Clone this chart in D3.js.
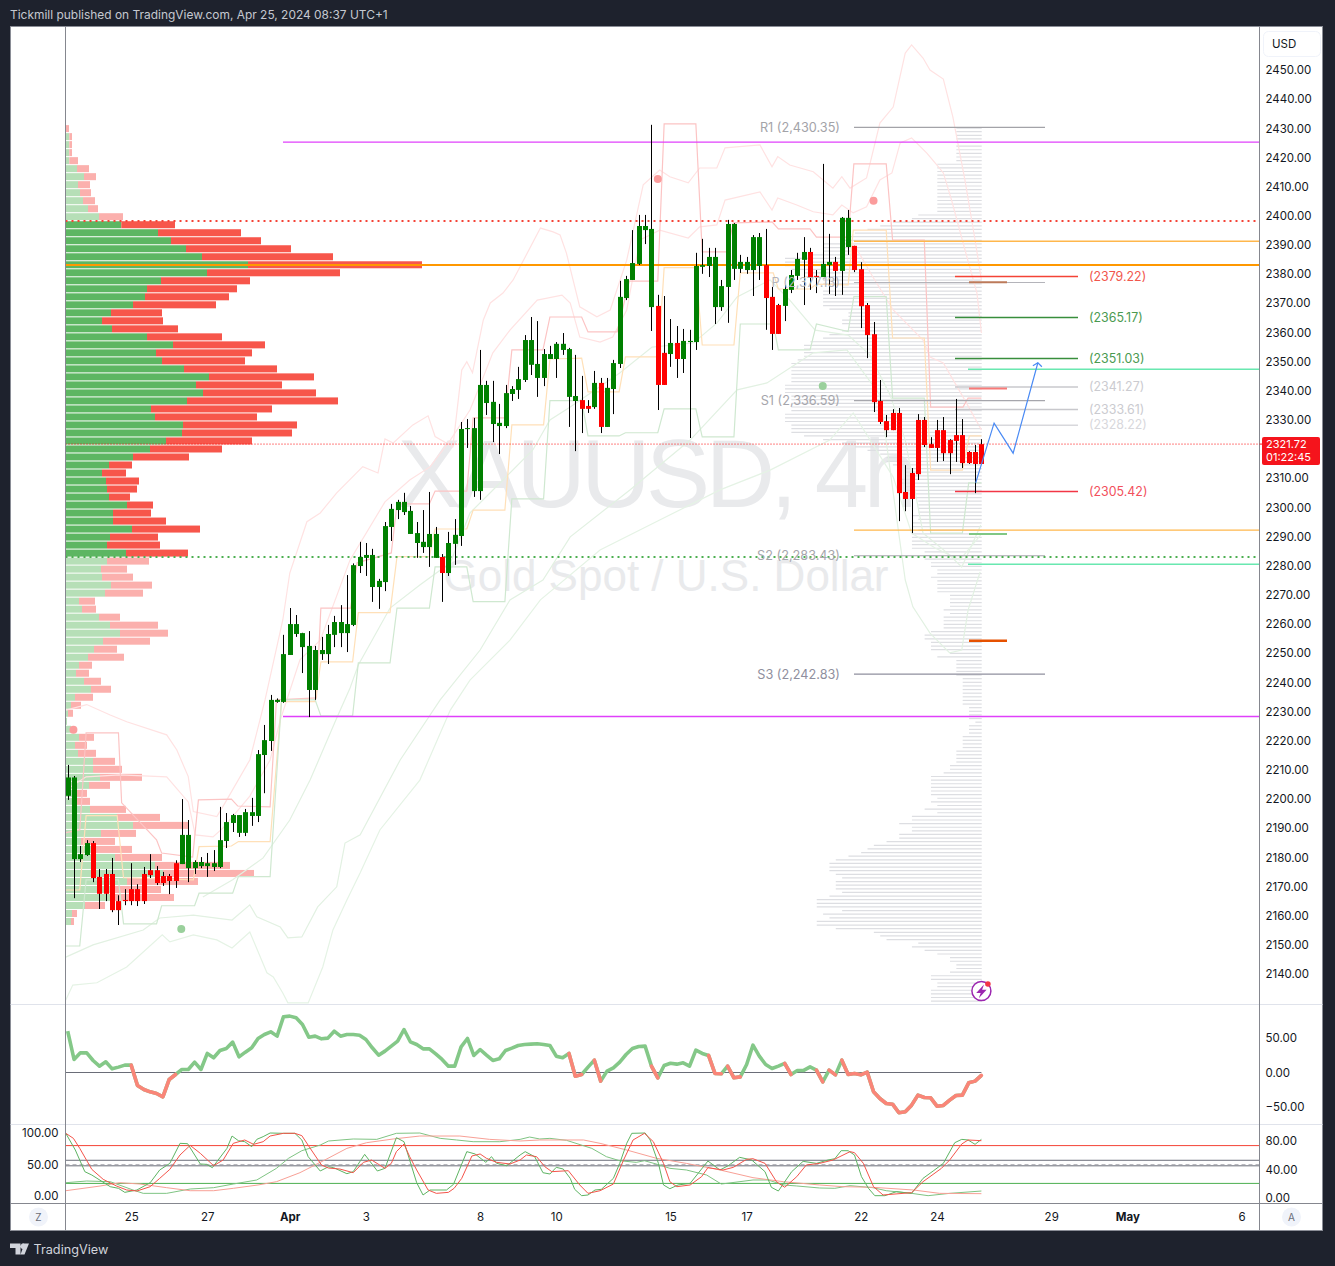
<!DOCTYPE html>
<html>
<head>
<meta charset="utf-8">
<style>
  html, body { margin: 0; padding: 0; background: #1e222d; }
  svg { display: block; }
  text { font-family: "Inter", "Liberation Sans", sans-serif; }
</style>
<script src="https://cdn.jsdelivr.net/npm/d3@7"></script>
</head>
<body>
<div id="chart"></div>
<script>
// 4h candles, one value per bar
const opens = [2201.1,2179.4,2179.4,2180.8,2184.9,2173.3,2174.3,2174.3,2165,2165.4,2169.1,2169.1,2174.3,2175.6,2175.6,2173.6,2173.6,2178,2177.7,2176.3,2176.3,2177,2177,2176.7,2176.7,2185.6,2191.8,2188.4,2188.4,2194.2,2194.2,2215.1,2219.9,2233.3,2233.3,2249.4,2256.6,2252.1,2237.4,2237.4,2249.7,2249.7,2256.3,2256.9,2256.9,2259.7,2279.9,2282.7,2272.7,2272.7,2274.4,2293.3,2299.1,2298.4,2290.9,2287.8,2286.4,2286.4,2282.7,2283,2277.5,2287.5,2290.2,2326.9,2305.6,2305.6,2335.8,2328.6,2327.9,2327.9,2338.9,2340.3,2343.7,2348.9,2344.4,2344.4,2350.9,2350.9,2354,2337.9,2336.5,2336.8,2334.8,2334.4,2342.7,2327.6,2340.6,2349.2,2371.8,2378,2383.5,2395.1,2368.7,2369.1,2353,2352.6,2356.4,2350.9,2356.7,2356.7,2382.5,2382.8,2368.7,2368.7,2375.6,2381.8,2381.8,2381.4,2381.4,2382.8,2383.1,2372.2,2369.4,2369.1,2374.6,2379.4,2384.9,2387.6,2379.4,2379,2383.1,2384.2,2381.1,2389.3,2389.7,2381.7,2369.4,2359.4,2336.5,2329.6,2332.4,2332.4,2305.3,2311.8,2330,2330,2321.7,2326.5,2326.5,2323.1,2324.8,2324.8,2319,2319,2321.7];
const highs = [2211.7,2207.9,2183.9,2185.9,2185.6,2176,2176,2179.8,2167,2169.1,2178,2170.8,2176.7,2181.1,2177,2175,2174.3,2179,2200,2192.8,2179,2180.1,2181.5,2182.5,2197.3,2195.2,2194.9,2194.5,2196.6,2200.4,2216.8,2225.4,2235.7,2234.5,2256.3,2265.5,2263.1,2257,2257.6,2252.5,2255.6,2259.7,2262.8,2266.5,2276.8,2280.8,2288.2,2287.8,2285.8,2275.5,2295,2301.2,2302.6,2305,2300.5,2295,2299.1,2305.3,2293.3,2284,2291.6,2296,2329.3,2330.3,2330.7,2354,2343.4,2343.4,2335.5,2342,2341.6,2348.2,2359.1,2365.3,2363.9,2354.3,2355.4,2356.7,2359.8,2354.7,2352.3,2345.1,2336.8,2346.8,2344.4,2344.4,2350.6,2377.7,2379.4,2395.1,2400.3,2400.3,2431.2,2372.9,2372.5,2364.6,2362.2,2361.2,2360.9,2387.3,2392.1,2389,2389,2378,2398.6,2397.5,2386.6,2385.9,2393.4,2394.1,2395.5,2375.6,2369.8,2376.3,2381.4,2387.3,2392.7,2389,2381.4,2417.8,2393.8,2385.9,2399.6,2402,2389.7,2384.1,2370.1,2363.6,2343.7,2331.7,2333.7,2334.1,2314.5,2313.5,2332,2331,2324.1,2330,2331,2323.4,2337.2,2330.3,2319.3,2321.4,2323.4];
const lows = [2199.7,2166,2178.4,2180.5,2171.5,2162.3,2165,2161.2,2156.8,2163.6,2163.6,2163.3,2164,2172.9,2170.5,2170.2,2167.4,2169.5,2177.7,2171.5,2174.3,2176.3,2173.3,2175.3,2176.3,2183.2,2188.7,2187,2187.3,2190.8,2192.1,2202,2216.5,2233,2233,2249.4,2255.6,2243.2,2228.1,2234,2247.7,2246.3,2252.1,2252.1,2250.4,2259.3,2277.5,2276.5,2267.6,2265.2,2271.3,2288.5,2296,2297.4,2290.9,2282.7,2284.4,2279.6,2282.7,2267.6,2276.5,2280.3,2286.8,2320.4,2303.6,2302.6,2331.7,2322.4,2318.3,2327.2,2336.5,2337.2,2343,2345.4,2337.9,2341.6,2350.9,2344.4,2352.3,2327.6,2319.3,2325.5,2332.4,2333.8,2325.5,2327.6,2332,2347.8,2371.1,2378,2383.1,2390.3,2360.5,2333.4,2342,2348.2,2344.4,2346.1,2323.8,2354,2380.1,2379,2362.9,2367.4,2363.3,2378,2380.4,2380.1,2372.5,2378,2360.9,2354,2359.5,2363.9,2373.5,2378,2369.4,2374.6,2373.5,2379,2373.2,2372.5,2372.9,2386.6,2380.7,2361.5,2351.2,2332.7,2328.6,2324.1,2326.5,2295.3,2298.7,2291.2,2309.4,2320.7,2320.4,2315.6,2315.9,2311.4,2315.6,2313.5,2314.9,2304.9,2314.9];
const closes = [2207.4,2207.4,2181.1,2184.9,2172.9,2167.5,2167.5,2161.9,2161.9,2165,2165,2165,2165,2173.9,2171.2,2171.2,2171.9,2171.9,2187.7,2187.7,2178.4,2178.4,2178,2178,2185.9,2192.1,2194.5,2194.5,2195.5,2195.5,2215.4,2220.2,2234,2234,2249.7,2260,2260,2256.9,2252.5,2251.1,2251.1,2256.6,2260.7,2260.7,2260,2280.2,2283,2283.7,2283.7,2274.8,2293.6,2299.5,2301.9,2301.9,2298.8,2291.2,2288.2,2290.9,2290.9,2277.5,2287.8,2290.6,2326.9,2327.2,2327.2,2342,2342,2336.2,2329,2339.2,2340.6,2344,2357.4,2357.4,2349.2,2352.6,2352.6,2356.1,2356.1,2354.3,2338.2,2333.8,2333.8,2342.7,2327.6,2341,2349.5,2372.2,2378.3,2383.8,2396.5,2396.5,2395.5,2342,2342,2356.4,2350.9,2357.1,2357.1,2382.8,2383.1,2385.9,2385.9,2375.9,2397.2,2397.2,2384.2,2384.2,2392.7,2392.7,2371.8,2359.5,2359.5,2374.9,2379.7,2385.2,2387.6,2378.7,2379.1,2383.5,2384.2,2381.1,2399.3,2399.3,2381.4,2369,2359.1,2336.1,2329.3,2326.5,2326.5,2304.9,2302.9,2302.9,2311.4,2321.4,2320.4,2320.4,2318.6,2318.6,2322.8,2315.2,2315.2,2314.9,2314.9];

// time axis
const timeTickBars = [10, 22, 35, 47, 65, 77, 95, 107, 125, 137, 155, 167, 185];
const timeTickLabels = ['25', '27', 'Apr', '3', '8', '10', '15', '17', '22', '24', '29', 'May', '6'];
const boldTimeLabels = ['Apr', 'May'];
// 2320.00 sits under the last price tag, so it is not shown
const priceTicks = [2450,2440,2430,2420,2410,2400,2390,2380,2370,2360,2350,2340,2330,2310,2300,2290,2280,2270,2260,2250,2240,2230,2220,2210,2200,2190,2180,2170,2160,2150,2140];

// left volume profile, top row first
const vpBuy = [0,3.3,3.3,3.3,3.3,11,18,12,14,17,22,33,55.3,92,105,120,136,182,141,95,81,79,67,45,36,46,81,107,90,96,118,143,130,137,121,85,89,117,116,100,84,67,43,36,40,41,43,61,47,47,66,44,41,60,41,35,36,45,39,13,16,33,44,54,37,28,22,13,10,18,25,9,5,2,1,5,13,9,12,27,27,34,23,10,10,24,51,67,35,15,30,49,89,97,61,47,44,19,6,5];
const vpSell = [3,2.7,2.7,2.7,8.7,12,12,12,11,12,10,24,53.7,83,90,105,131,174,133,89,90,84,83,51,61,66,75,92,96,83,93,105,86,113,151,121,102,114,110,86,72,56,23,24,33,30,21,26,38,53,68,48,53,62,42,26,31,41,38,16,14,21,48,48,47,23,36,13,13,17,20,18,10,5,0,0,15,12,18,22,29,42,21,11,14,36,43,55,35,34,36,47,75,91,71,48,64,20,5,3];
const vpValueAreaFirst = 12;
const vpValueAreaLast = 53;

// right profile, bars per price row, top row first
const tpoCounts = [4,4,4,4,4,4,4,4,4,4,7,7,7,7,7,7,7,7,7,7,7,7,7,7,10,11,14,16,18,
  20,21,22,25,25,25,27,31,31,31,30,28,28,25,25,22,25,25,25,25,25,24,21,21,22,22,21,22,24,25,27,28,28,28,28,29,30,30,30,30,30,30,31,31,31,30,30,30,30,30,31,31,31,30,30,30,28,25,22,20,18,16,15,15,14,12,12,12,13,13,12,12,12,11,10,10,10,10,11,10,11,11,10,11,
  11,11,11,11,9,9,9,8,8,7,7,8,7,7,7,7,5,5,5,5,6,5,6,6,6,6,8,9,9,8,8,8,5,7,4,4,4,4,4,3,3,3,3,3,3,3,3,2,2,2,2,1,2,2,2,3,3,3,3,4,4,4,4,5,5,6,8,8,8,8,8,8,7,8,7,9,7,11,11,13,11,11,13,13,15,17,18,19,21,23,24,24,24,23,22,23,23,23,22,24,26,26,26,22,25,24,26,26,23,17,16,15,10,11,9,7,5,5,4,4,5,8,8,7,7,8,8,8,8];

// pale step lines, [bar, price]
const stepRed = [[-0.3,2188.5],[1.9,2189.4],[2.9,2222.7],[8,2222.7],[8.5,2198.7],[14,2186],[14.8,2181.5],[19.7,2180.1],[20.6,2199.7],[25.8,2200],[26.8,2197.6],[31.9,2197.3],[32.9,2234],[39.2,2234.7],[39.9,2265.5],[44.6,2265.5],[45.6,2281],[51,2284.4],[51.9,2301.2],[57,2301.2],[57.9,2305.6],[62.9,2305.6],[63.9,2330.7],[68.9,2330.7],[70,2354],[74.9,2354],[76,2365.3],[81,2365.3],[82,2360.2],[86.6,2360.2],[88.5,2377.6],[93,2377.6],[94,2431.5],[99,2431.5],[100,2387.6],[103.9,2387.6],[104.9,2397.6],[111,2397.9],[112,2395.5],[117,2395.5],[118,2392.7],[123,2392.7],[123.9,2417.8],[129,2417.8],[130,2391.7],[135,2391.7],[136,2334.4],[141.1,2334.4],[141.9,2337.5],[144,2337.5]];
const stepOrange = [[-0.3,2168.8],[1.9,2168.8],[2.9,2194.3],[7.8,2194.3],[8.8,2173],[19.8,2172.3],[20.7,2183.7],[25.8,2183.9],[26.9,2185.4],[31.9,2185.4],[33.7,2233.4],[39,2233.4],[39.9,2247],[44.9,2247],[45.8,2263.9],[50.8,2263.9],[51.9,2283.1],[57,2283.1],[57.9,2292.6],[62.9,2292.6],[63.9,2299.1],[68.9,2299.1],[70,2328.3],[75,2328.3],[76,2350.9],[81,2351.2],[82,2339.6],[86.9,2339.6],[87.9,2351.6],[93.1,2351.6],[94,2382.2],[99,2382.2],[100,2355.7],[105,2355.7],[106,2380.4],[111.2,2380.4],[112,2374.9],[117,2374.9],[118,2376.6],[123,2376.3],[123.8,2395.1],[129,2395.1],[130,2358.1],[135,2358.1],[136,2312.8],[141,2312.8],[142.1,2324.5],[144,2324.5]];
const stepGreen = [[-0.3,2149.6],[1.9,2149.6],[2.9,2172.3],[8,2172.3],[8.8,2157.2],[14,2157.2],[14.8,2163.4],[20,2163.4],[20.7,2167.7],[26,2167.7],[26.9,2173.4],[31.9,2173.4],[33.7,2234],[39,2234],[39.9,2228.5],[44.9,2228.5],[45.8,2246.7],[50.8,2246.7],[51.9,2265.5],[57,2265.5],[57.9,2279.6],[62.9,2279.6],[63.9,2267.7],[68.9,2267.7],[70,2302.9],[75,2302.9],[76,2336.6],[81,2336.6],[82,2324.5],[86.9,2324.5],[87.9,2325.6],[93,2325.6],[94,2333.8],[99,2333.8],[100,2324.2],[105,2324.2],[106,2362.9],[111.2,2362.9],[112,2354],[117,2354],[118,2362.9],[123,2360.3],[123.9,2372.3],[129,2372.3],[130,2337.5],[135,2337.5],[136,2291.2],[141,2291.2],[142,2308.4],[144,2308.4]];

// pale band curves, [bar, price]
const bandUpperOuter = [[-0.3,2230.5],[3,2232.4],[6.7,2228.8],[9.3,2226.5],[15.6,2222],[17.2,2216.8],[19,2207.7],[19.8,2195.7],[23.5,2194],[24.8,2198.7],[28.7,2213.4],[31.1,2234],[33.9,2261.4],[35,2277.5],[37.7,2295.1],[39.8,2298.1],[42.4,2305],[46.5,2314],[48.9,2311.8],[50,2323.5],[51.3,2322.1],[54.4,2328.3],[56.8,2331.4],[57.9,2324.3],[60.7,2320.8],[62.1,2347.1],[62.9,2350],[63.8,2346.2],[65.5,2364.3],[66.6,2370.1],[68.6,2373.5],[70.2,2378],[74.5,2395.8],[76.5,2394.5],[77.6,2393.4],[78.6,2387.2],[80.7,2368.8],[83.4,2365.4],[85.5,2367.7],[88.1,2384.8],[90.7,2410.6],[93.3,2415.7],[94.9,2413.4],[97.8,2411.3],[99.6,2416.4],[102.3,2416.4],[103.6,2423.3],[109.1,2424.3],[111,2416.8],[111.9,2420.3],[113.8,2417.4],[117.5,2415.1],[120.6,2409.5],[122,2413.4],[123.3,2409.5],[125.9,2413],[128,2431.8],[130.1,2437.3],[132,2455.8],[133,2458.6],[134.8,2454.1],[135.9,2450],[138,2446.9],[139.5,2433.9],[141.4,2412.3],[143,2391.7],[144,2378]];
const bandUpperInner = [[-0.3,2203.1],[2.9,2207.6],[8.2,2208.3],[15.6,2207.6],[19,2199],[20.1,2187.7],[22.9,2187],[24.5,2190.1],[28.7,2201],[31.9,2213.4],[33.5,2227.1],[36.6,2247.7],[39.8,2254.5],[44.5,2282],[50,2301.9],[53.9,2309.4],[57.1,2313.9],[60.3,2323.1],[63.4,2333.4],[65.5,2344.7],[67,2353],[69.7,2360.8],[74,2371.1],[77.9,2372.8],[79.2,2370.1],[80.7,2358.4],[83.9,2356.7],[85.9,2358.4],[88.1,2367.7],[90.2,2391.7],[93.3,2395.1],[97.8,2392.4],[99.6,2396.2],[102.3,2396.9],[103.6,2405.4],[109.1,2408.2],[111,2402],[111.9,2406.1],[114.9,2403.7],[117.5,2401.4],[120.6,2400.3],[122,2403.7],[123.8,2401],[125.9,2403.1],[128,2412.3],[129.9,2414.7],[131.2,2425],[133,2426.7],[135.4,2421.5],[137,2417.4],[138,2414.7],[139.3,2405.4],[141.7,2386],[143.3,2373.5],[144,2359.8]];
const bandUpperMid = [[123.8,2390.7],[126.9,2379],[130.1,2367.7],[134.8,2357.4],[135.9,2351.6],[138,2349.5],[141.1,2337.9],[144,2326.6]];
const bandLowerA = [[21.3,2166.4],[26,2172.3],[30.8,2179.8],[35,2192.8],[38.2,2206.5],[42.4,2227.8],[44.5,2238.1],[45.8,2246],[50.8,2265.5],[55.5,2273.4],[60.3,2281],[63.4,2298.1],[68.6,2309.4],[73.3,2319.7],[76,2330],[79.2,2334.4],[87,2346.1],[92.1,2355],[98.6,2356.4],[102.3,2363.2],[105.5,2372.2],[110.7,2378],[113.8,2371.1],[117.8,2360.8],[123,2359.1],[126.4,2352.3],[129.6,2338.6],[132,2323.1],[134.8,2291.2],[138.6,2284.4],[140.9,2279.6],[142.5,2287.1],[143.9,2294]];
const bandLowerB = [[-0.3,2145.8],[4,2150],[11.9,2155.1],[14.5,2159.2],[19.8,2160.2],[25.9,2158.5],[28.7,2163.7],[29.8,2159.6],[33.5,2156.1],[34.7,2152.4],[36.9,2152.7],[39.4,2163],[42.4,2169.9],[43.7,2184.9],[46.1,2187.7],[52.4,2213.4],[58.7,2234],[65,2251.1],[69.7,2268.3],[74.9,2275.1],[79.2,2289.9],[88.6,2306],[98.1,2323.1],[105.5,2340.3],[110.2,2342.7],[117.5,2353],[122.8,2354],[128,2338.6],[130.9,2292.3],[132,2275.1],[133.2,2265.9],[135.9,2256.9],[139,2250.1],[140.9,2251.1],[141.9,2264.8],[143.8,2277.9]];
const bandLowerC = [[-0.3,2131.1],[0.8,2136.2],[4.6,2137],[9.3,2142.4],[14.9,2153.4],[16.1,2151],[19.8,2153.4],[23.5,2151.7],[25.9,2148.9],[28.7,2154.4],[31.4,2140.4],[32.4,2139],[33.9,2133.5],[34.7,2130.1],[37.9,2130.1],[40.2,2142.4],[41.8,2155.1],[44,2165.4],[46.1,2174.7],[49.2,2189.4],[55.5,2206.5],[60.3,2230.5],[63.4,2240.8],[69.7,2254.5],[74.5,2268.3],[83.9,2285.4],[93.3,2295.7],[102.8,2306],[110.7,2312.8],[120.1,2323.1],[123.8,2332.4],[130.1,2310.4],[133,2291.2],[136.7,2286.1],[140.6,2282],[143.9,2290.6]];

// signal dots, [bar, price]
const dotsRed = [[0.9,2223.8],[93,2412.6],[127,2405.2]];
const dotsGreen = [[17.9,2155.4],[119,2341.6]];

// long horizontal levels
const magentaLevels = [2425.3, 2228.3];
const yellowLevels = [2391.3, 2292.2];
const aquaLevels = [2347.4, 2280.5];
const pointOfControl = 2383.1;
const valueAreaHigh = 2398.2;
const valueAreaLow = 2283;
const lastPrice = 2321.72;

// pivots
const pivotNames = ['R1 (2,430.35)', 'P (2,377.13)', 'S1 (2,336.59)', 'S2 (2,283.43)', 'S3 (2,242.83)'];
const pivotPrices = [2430.35, 2377.13, 2336.59, 2283.43, 2242.83];
const pivotColors = ['#a3a3a8', '#b4b4ba', '#a6a6ac', '#a6a6ac', '#8f8f9e'];

// drawn target levels
const targetPrices = [2379.22, 2365.17, 2351.03, 2341.27, 2333.61, 2328.22, 2305.42];
const targetLineColors = ['#f44336', '#388e3c', '#388e3c', '#c8c8cc', '#c8c8cc', '#d8d8dc', '#f23645'];
const targetTextColors = ['#f1564c', '#4a9a50', '#4a9a50', '#cbcbd0', '#cbcbd0', '#d8d8dc', '#f2505c'];

// short thick order levels
const orderPrices = [2377.2, 2340.8, 2290.9, 2254.3];
const orderColors = ['#bc7a5a', '#f77a78', '#81c784', '#e65100'];

// hand drawn arrow, [bar, price]
const arrowPath = [[143.1,2308.4],[146,2328.9],[149,2318.6],[152.9,2349.6]];

// momentum pane, one value per bar
const momentum = [59.9,18.9,28.5,28.5,17.4,9.2,15.5,5.3,7.8,10.7,10.7,-18.8,-24.6,-28,-30.4,-35.2,-10.1,-2.9,4.4,4.4,15,4.4,27.6,21.3,31.9,34.8,44,22.7,29.5,35.8,49.3,55.1,59,52.7,80.7,81.7,79.2,69.6,51.2,52.7,48.8,49.8,59.9,52.7,55.1,55.1,54.1,47.8,35.8,25.1,31,38.2,45.4,62.3,44.5,40.6,34.3,34.3,27,18.9,9.2,9.2,37.2,49.3,24.7,33.3,25.1,17.4,19.8,31.9,35.3,39.1,40.6,41.1,41.6,40.6,39.1,23.7,21.3,27.6,-5.3,-2.9,7.8,17.9,-12.5,2,6.8,15,26.1,34.8,37.7,38.2,9.2,-7.7,10.2,13.5,12.1,14,9.2,32.4,27.6,24.7,-1.4,-1.9,9.2,-7.7,-6.3,11.6,39.6,23.7,11.6,5.8,9.2,13.1,-2.9,3,3,8.2,3.4,-13.5,3.4,-3.4,17.9,-2.9,-1.4,-3.4,0.5,-28,-37.7,-44.9,-45.9,-58.4,-57,-47.3,-32.8,-36.2,-36.7,-48.8,-47.8,-40.1,-33.3,-32.8,-15,-12.5,-4.3];
const momentumRedRuns = [[10,17],[79,81],[83,84],[92,93],[101,103],[104,106],[113,114],[118,119],[120,121],[122,144]];
const momentumTicks = [50, 0, -50];

// stochastic pane, [bar, value]
const stochFastK = [[-0.3,99.5],[1.2,73],[2.7,38.6],[3.8,33.3],[6.7,14.8],[8,12.2],[9,5.8],[10.9,9.5],[13,21.1],[14.5,41.3],[16.1,51.8],[17.7,83.6],[18.9,83],[20.9,50.8],[21.9,50.2],[22.8,45],[25.1,75.6],[25.9,95.2],[26.9,87.8],[27.9,86.2],[29,78.3],[29.8,89.9],[30.8,94.2],[31.9,100],[34,99.5],[35.8,99.5],[36.9,88.9],[37.9,62.4],[39.8,39.7],[41.1,46.5],[41.9,45],[44,35.4],[45,38.6],[46.8,66.1],[48.8,39.7],[50,43.9],[51.8,92.6],[53,86.2],[55,21.1],[56,1.6],[57.1,9.5],[59.7,9.5],[60.8,18.5],[62.9,70.4],[64.2,66.7],[65.9,53.4],[66.8,62.4],[67.6,51.8],[69.2,48.1],[71.3,65.1],[72.1,70.4],[73.6,62.4],[74.9,37],[76,34.9],[77,45.5],[78.1,42.8],[79.2,28],[79.9,10.6],[81,0.5],[82,1.6],[83.1,9.5],[84.1,10.6],[86,28],[87,51.8],[88.1,83.6],[88.9,99.5],[91,100],[91.8,88.9],[93.1,51.8],[93.9,17.5],[94.9,11.6],[96.2,17.5],[98.1,20.1],[100.9,55.5],[102.8,41.3],[104.1,48.1],[105.9,61.4],[107.8,57.1],[109.9,38.6],[110.9,13.8],[112,7.9],[114.1,38.6],[115.9,55],[118,51.8],[119.8,57.1],[120.9,59.2],[121.9,71.9],[123,71.9],[124,65.1],[125.1,30.7],[126.2,12.2],[127.2,0.5],[128.8,0.5],[130.6,6.9],[133,4.2],[134.8,28],[136.4,39.7],[138,51.8],[139.8,84.6],[140.9,89.9],[141.9,88.9],[143,82],[144,89.9]];
const stochFastD = [[-0.3,99.5],[0.9,91.5],[1.9,75.6],[3.8,42.3],[5.6,26.4],[7.7,15.8],[9.3,9.5],[10.9,7.9],[13,14.8],[14.5,28],[16.1,42.3],[17.7,65.1],[19.3,80.4],[20.9,67.7],[23,48.1],[24.5,57.1],[26.1,83.6],[27.9,88.9],[29.3,82],[30.8,86.2],[31.9,95.2],[34,99.5],[35.8,99.5],[36.9,95.8],[38.4,73],[40,49.2],[41.1,44.4],[42.9,42.8],[45,37],[46.6,53.4],[47.9,57.1],[50,43.9],[51,51.8],[51.8,70.4],[53,82.5],[53.9,62.4],[55,41.3],[56.8,9.5],[58.1,4.2],[60,5.8],[60.9,12.2],[62.1,28],[63.7,63.5],[65,66.7],[66,59.8],[67.6,53.4],[69.7,50.8],[71.3,57.1],[72.3,65.1],[73.9,62.4],[75.2,46.5],[76.3,38.6],[78.9,40.2],[80.7,17.5],[82,4.2],[83.9,8.4],[86,19],[87.6,57.1],[89.1,88.9],[90.9,99.5],[92.3,86.2],[93.9,51.8],[94.9,22.7],[96,14.8],[98.1,17.5],[99.9,30.7],[100.9,45],[103.3,41.3],[104.9,45.5],[107,58.2],[108,59.2],[109.9,51.8],[111.7,22.7],[113,13.8],[114.9,30.7],[116.4,49.2],[118.5,51.8],[120.6,57.1],[123.3,70.4],[124,68.8],[125.4,51.8],[127,14.8],[128.5,1.6],[133,5.3],[134.8,22.7],[137.7,43.9],[139,57.1],[140.9,82.5],[141.9,88.9],[144,87.8]];
const stochSlowK = [[-0.3,21.1],[3,23.8],[6.7,22.7],[10.3,9.5],[11.9,4.2],[15.6,4.2],[19.3,11.1],[23,13.2],[26.1,19],[29.8,25.4],[32.9,43.9],[34.8,59.8],[36.9,71.9],[39.8,80.9],[41.1,87.3],[45,90.5],[48.7,89.9],[51.8,99.5],[55.5,100],[58.7,91.5],[61.3,88.9],[63.9,86.2],[68.1,86.2],[71.3,89.9],[72.8,93.6],[74.4,90.5],[76,91.5],[78.6,88.4],[82.6,75.6],[84.9,62.4],[87,56],[89.6,53.4],[90.9,56],[93.3,49.2],[94.9,43.9],[97.5,41.3],[100.7,33.3],[103,19],[108,25.4],[110.4,25.4],[112.8,17.5],[114.9,15.9],[118.5,12.7],[120.9,12.2],[123.3,16.4],[126.9,13.2],[129,8.4],[133,4.2],[135.6,0.5],[139,4.2],[144,7.9]];
const stochSlowD = [[-0.3,8.4],[5.1,15.8],[8.2,21.1],[11.4,19],[15.6,13.2],[19.3,8.4],[23,8.4],[26.1,12.2],[30,17.5],[32.9,22.7],[36.6,37],[40.3,56],[44,75.6],[47.1,84.6],[51.3,90.5],[55.5,95.2],[61.8,95.2],[66.5,89.9],[71.3,87.3],[74.4,88.9],[81.3,88.9],[83.9,83.6],[88.1,73],[92.8,59.8],[97.5,51.8],[102.8,41.3],[108,29.1],[112.8,22.7],[118.5,17.5],[122.2,14.8],[126.9,13.8],[133.3,9.5],[137.4,4.2],[144,3.7]];
const stochBandUpper = 80;
const stochBandLower = 20;
const stochBandMid = 50;
const stochGreyLevels = [56.7, 47.9];
const stochLeftTicks = [100, 50, 0];
const stochRightTicks = [80, 40, 0];

const width = 1335;
const height = 1266;
const bg = '#1e222d';
const paneLeft = 65.5;
const paneRight = 1259.5;
const paneTop = 26.5;
const mainBottom = 1004.5;
const momentumBottom = 1124.5;
const stochBottom = 1203.5;
const frameRight = 1322.5;
const frameBottom = 1230.5;

const svg = d3.select('#chart')
    .append('svg')
    .attr('width', width)
    .attr('height', height);

svg.append('rect').attr('width', width).attr('height', height).attr('fill', bg);
svg.append('rect')
    .attr('x', 10.5).attr('y', paneTop)
    .attr('width', frameRight - 10.5).attr('height', frameBottom - paneTop)
    .attr('fill', '#fff').attr('stroke', '#8a8d96');

svg.append('text').attr('x', 10).attr('y', 19)
    .attr('font-size', 11.95).attr('fill', '#c5c8d0')
    .text('Tickmill published on TradingView.com, Apr 25, 2024 08:37 UTC+1');

const x = d3.scaleLinear().domain([0, 144]).range([67.7, 981.4]);
const y = d3.scaleLinear().domain([2450, 2140]).range([70, 974]);
const yMomentum = d3.scaleLinear().domain([50, -50]).range([1038, 1107]);
const yStoch = d3.scaleLinear().domain([100, 0]).range([1133, 1196]);
const yStochRight = d3.scaleLinear().domain([80, 0]).range([1141, 1198]);

const defs = svg.append('defs');
defs.append('clipPath').attr('id', 'main-clip').append('rect')
    .attr('x', paneLeft).attr('y', paneTop)
    .attr('width', paneRight - paneLeft).attr('height', mainBottom - paneTop);

const main = svg.append('g').attr('clip-path', 'url(#main-clip)');

// watermark
main.append('text')
    .attr('x', 655).attr('y', 507)
    .attr('text-anchor', 'middle')
    .style('font-family', '"Liberation Sans", sans-serif')
    .style('font-size', '96px')
    .style('letter-spacing', '-4.5px')
    .attr('fill', '#e9eaec')
    .text('XAUUSD, 4h');
main.append('text')
    .attr('x', 666).attr('y', 591)
    .attr('text-anchor', 'middle')
    .style('font-family', '"Liberation Sans", sans-serif')
    .style('font-size', '44px')
    .attr('fill', '#e9eaec')
    .text('Gold Spot / U.S. Dollar');

// left volume profile
const vpRows = d3.scaleBand()
    .domain(d3.range(vpBuy.length))
    .range([y(2431.1), y(2156.8)])
    .paddingInner(0.125);
const vpX = d3.scaleLinear().domain([0, 356]).range([66, 422]);
const inValueArea = i => i >= vpValueAreaFirst && i <= vpValueAreaLast;

main.append('g').selectAll('rect')
    .data(vpBuy)
    .enter()
    .append('rect')
    .attr('x', vpX(0))
    .attr('y', (d, i) => vpRows(i))
    .attr('width', d => vpX(d) - vpX(0))
    .attr('height', vpRows.bandwidth())
    .attr('fill', (d, i) => inValueArea(i) ? '#5db662' : '#b6dfb7');

main.append('g').selectAll('rect')
    .data(vpSell)
    .enter()
    .append('rect')
    .attr('x', (d, i) => vpX(vpBuy[i]))
    .attr('y', (d, i) => vpRows(i))
    .attr('width', d => vpX(d) - vpX(0))
    .attr('height', vpRows.bandwidth())
    .attr('fill', (d, i) => inValueArea(i) ? '#f7564b' : '#fbb0ad');

// right profile
const tpoRows = d3.scalePoint()
    .domain(d3.range(tpoCounts.length))
    .range([y(2430.1), y(2130.7)]);
main.append('g').selectAll('line')
    .data(tpoCounts)
    .enter()
    .append('line')
    .attr('x1', d => x(144.05 - d))
    .attr('x2', x(144.05))
    .attr('y1', (d, i) => tpoRows(i))
    .attr('y2', (d, i) => tpoRows(i))
    .attr('stroke', '#dddee2')
    .attr('stroke-width', 1.2);

// pale overlays
const overlayLine = d3.line().x(d => x(d[0])).y(d => y(d[1]));
const overlays = [
    [bandUpperOuter, '#ffe2e2'], [bandUpperInner, '#ffe2e2'], [bandUpperMid, '#ffe2e2'],
    [bandLowerA, '#e2f1e2'], [bandLowerB, '#e2f1e2'], [bandLowerC, '#e5f3e5'],
    [stepRed, '#fcc4c4'], [stepOrange, '#ffe0b8'], [stepGreen, '#cfe8d0']
];
main.append('g').selectAll('path')
    .data(overlays)
    .enter()
    .append('path')
    .attr('d', d => overlayLine(d[0]))
    .attr('fill', 'none')
    .attr('stroke', d => d[1])
    .attr('stroke-width', 1.2);

// levels
function level(price, from, to, color, w, dash) {
    main.append('line')
        .attr('x1', from).attr('x2', to)
        .attr('y1', y(price)).attr('y2', y(price))
        .attr('stroke', color).attr('stroke-width', w)
        .attr('stroke-dasharray', dash || null);
}
magentaLevels.forEach(p => level(p, 283, paneRight, '#e040fb', 1.3));
yellowLevels.forEach(p => level(p, 854, paneRight, '#ffb74d', 1.4));
aquaLevels.forEach(p => level(p, 968, paneRight, '#69e8b0', 1.4));
pivotPrices.forEach((p, i) => level(p, 854, 1045, pivotColors[i], 1.2));
targetPrices.forEach((p, i) => level(p, 955, 1078, targetLineColors[i], 1.5));
orderPrices.forEach((p, i) => level(p, 969, 1007, orderColors[i], i === 3 ? 2.6 : 2));
level(pointOfControl, paneLeft, paneRight, '#ff9800', 2);
level(valueAreaHigh, paneLeft, paneRight, '#f44336', 2, '2 4');
level(valueAreaLow, paneLeft, paneRight, '#4caf50', 2, '2 4');
level(lastPrice, paneLeft, paneRight, '#f00', 1, '1 2');

// signal dots
main.append('g').selectAll('circle')
    .data(dotsRed.map(d => [d, '#fb9c9c']).concat(dotsGreen.map(d => [d, '#9ad09c'])))
    .enter()
    .append('circle')
    .attr('cx', d => x(d[0][0]))
    .attr('cy', d => y(d[0][1]))
    .attr('r', 4)
    .attr('fill', d => d[1]);

// candles
const bars = main.append('g').selectAll('g')
    .data(opens)
    .enter()
    .append('g');
bars.append('line')
    .attr('x1', (d, i) => Math.round(x(i)) + 0.5)
    .attr('x2', (d, i) => Math.round(x(i)) + 0.5)
    .attr('y1', (d, i) => y(highs[i]))
    .attr('y2', (d, i) => y(lows[i]))
    .attr('stroke', '#000');
bars.append('rect')
    .attr('x', (d, i) => Math.round(x(i)) - 2)
    .attr('y', (d, i) => y(Math.max(d, closes[i])))
    .attr('width', 5)
    .attr('height', (d, i) => Math.max(1, Math.abs(y(d) - y(closes[i]))))
    .attr('fill', (d, i) => closes[i] > d ? '#008000' : '#ff0000');

// hand drawn arrow
main.append('path')
    .attr('d', overlayLine(arrowPath))
    .attr('fill', 'none')
    .attr('stroke', '#4a8af4')
    .attr('stroke-width', 1.2);
const arrowTip = arrowPath[arrowPath.length - 1];
main.append('path')
    .attr('d', `M${x(arrowTip[0]) - 5},${y(arrowTip[1]) + 3}L${x(arrowTip[0])},${y(arrowTip[1])}L${x(arrowTip[0]) + 4},${y(arrowTip[1]) + 4}`)
    .attr('fill', 'none')
    .attr('stroke', '#4a8af4')
    .attr('stroke-width', 1.2);

// pivot and target labels
main.append('g').selectAll('text')
    .data(pivotNames)
    .enter()
    .append('text')
    .attr('x', 840)
    .attr('y', (d, i) => y(pivotPrices[i]))
    .attr('dy', '0.35em')
    .attr('text-anchor', 'end')
    .attr('font-size', 12.7)
    .attr('fill', (d, i) => pivotColors[i])
    .text(d => d);
main.append('g').selectAll('text')
    .data(targetPrices)
    .enter()
    .append('text')
    .attr('x', 1089)
    .attr('y', d => y(d))
    .attr('dy', '0.35em')
    .attr('font-size', 12.4)
    .attr('fill', (d, i) => targetTextColors[i])
    .text(d => `(${d.toFixed(2)})`);

// lightning badge
const badge = main.append('g').attr('transform', `translate(${x(144)},991)`);
badge.append('circle').attr('r', 9.5).attr('fill', '#fff').attr('stroke', '#9c27b0').attr('stroke-width', 1.5);
badge.append('path').attr('d', 'M2.6,-6.5L-5.2,2H-0.7L-2.6,7.2L5.2,-1.3H0.7Z').attr('fill', '#9c27b0');
badge.append('circle').attr('cx', 6.5).attr('cy', -7).attr('r', 2.8).attr('fill', '#f23645');

// momentum pane
const momentumLine = d3.line().x((d, i) => x(i)).y(d => yMomentum(d));
svg.append('line')
    .attr('x1', paneLeft).attr('x2', x(144))
    .attr('y1', yMomentum(0)).attr('y2', yMomentum(0))
    .attr('stroke', '#6a6d78').attr('stroke-width', 1.2);
svg.append('path')
    .attr('d', momentumLine(momentum))
    .attr('fill', 'none')
    .attr('stroke', '#84c888')
    .attr('stroke-width', 3.6)
    .attr('stroke-linejoin', 'round');
const momentumSegment = d3.line().x(d => x(d)).y(d => yMomentum(momentum[d]));
svg.append('g').selectAll('path')
    .data(momentumRedRuns)
    .enter()
    .append('path')
    .attr('d', d => momentumSegment(d3.range(d[0], d[1] + 1)))
    .attr('fill', 'none')
    .attr('stroke', '#fa8578')
    .attr('stroke-width', 3.6)
    .attr('stroke-linejoin', 'round')
    .attr('stroke-linecap', 'round');

// stochastic pane
const stochLine = d3.line().x(d => x(d[0])).y(d => yStoch(d[1]));
function stochLevel(v, color, dash) {
    svg.append('line')
        .attr('x1', paneLeft).attr('x2', paneRight)
        .attr('y1', yStoch(v)).attr('y2', yStoch(v))
        .attr('stroke', color).attr('stroke-width', 1)
        .attr('stroke-dasharray', dash || null);
}
stochLevel(stochBandUpper, '#f44336');
stochLevel(stochBandLower, '#4caf50');
stochLevel(stochBandMid, '#b8b8bd', '4 3');
stochGreyLevels.forEach(v => stochLevel(v, '#6a6d78'));
[[stochSlowK, '#7fc483'], [stochSlowD, '#f8a096'], [stochFastK, '#5eb463'], [stochFastD, '#f4544a']].forEach(s => {
    svg.append('path')
        .attr('d', stochLine(s[0]))
        .attr('fill', 'none')
        .attr('stroke', s[1])
        .attr('stroke-width', 1);
});

// pane borders
function border(x1, y1, x2, y2, color) {
    svg.append('line')
        .attr('x1', x1).attr('x2', x2).attr('y1', y1).attr('y2', y2)
        .attr('stroke', color);
}
border(10.5, mainBottom, paneRight, mainBottom, '#e0e3eb');
border(10.5, momentumBottom, paneRight, momentumBottom, '#e0e3eb');
border(paneRight, mainBottom, frameRight, mainBottom, '#e0e3eb');
border(paneRight, momentumBottom, frameRight, momentumBottom, '#e0e3eb');
border(10.5, stochBottom, frameRight, stochBottom, '#85878f');
border(paneLeft, paneTop, paneLeft, frameBottom, '#85878f');
border(paneRight, paneTop, paneRight, frameBottom, '#85878f');

// axes
function styleAxis(g, size) {
    g.select('.domain').remove();
    g.selectAll('.tick line').remove();
    g.selectAll('.tick text')
        .style('font-family', 'Inter, sans-serif')
        .attr('font-size', size)
        .attr('fill', '#131722');
}

svg.append('g')
    .attr('transform', `translate(${paneRight},0)`)
    .call(d3.axisRight(y).tickValues(priceTicks).tickSize(0).tickPadding(6).tickFormat(d3.format('.2f')))
    .call(g => styleAxis(g, 11.5));

svg.append('g')
    .attr('transform', `translate(${paneRight},0)`)
    .call(d3.axisRight(yMomentum).tickValues(momentumTicks).tickSize(0).tickPadding(6)
        .tickFormat(d => d3.format('.2f')(d).replace('-', '\u2212')))
    .call(g => styleAxis(g, 11.5));

svg.append('g')
    .attr('transform', `translate(${paneRight},0)`)
    .call(d3.axisRight(yStochRight).tickValues(stochRightTicks).tickSize(0).tickPadding(6).tickFormat(d3.format('.2f')))
    .call(g => styleAxis(g, 11.5));

svg.append('g')
    .attr('transform', `translate(${paneLeft},0)`)
    .call(d3.axisLeft(yStoch).tickValues(stochLeftTicks).tickSize(0).tickPadding(7).tickFormat(d3.format('.2f')))
    .call(g => styleAxis(g, 11.5));

svg.append('g')
    .attr('transform', `translate(0,1217)`)
    .call(d3.axisBottom(x).tickValues(timeTickBars).tickSize(0).tickPadding(0)
        .tickFormat(d => timeTickLabels[timeTickBars.indexOf(d)]))
    .call(g => styleAxis(g, 11.5))
    .call(g => g.selectAll('.tick text')
        .attr('dy', '0.35em')
        .attr('y', 0)
        .attr('font-weight', d => boldTimeLabels.includes(timeTickLabels[timeTickBars.indexOf(d)]) ? 700 : 400));

// USD box
svg.append('rect')
    .attr('x', 1263.5).attr('y', 31.5)
    .attr('width', 57).attr('height', 25).attr('rx', 5)
    .attr('fill', '#fff').attr('stroke', '#f0f3fa');
svg.append('text').attr('x', 1272).attr('y', 44).attr('dy', '0.35em')
    .attr('font-size', 11.5).attr('fill', '#131722').text('USD');

// last price tag
svg.append('rect')
    .attr('x', 1262).attr('y', 437)
    .attr('width', 58).attr('height', 28).attr('rx', 2)
    .attr('fill', '#f5141c');
svg.append('line')
    .attr('x1', paneRight).attr('x2', 1262)
    .attr('y1', y(lastPrice)).attr('y2', y(lastPrice))
    .attr('stroke', '#f5141c');
svg.append('text').attr('x', 1266).attr('y', y(lastPrice)).attr('dy', '0.35em')
    .attr('font-size', 11).attr('fill', '#fff').text(lastPrice.toFixed(2));
svg.append('text').attr('x', 1266).attr('y', 457.5).attr('dy', '0.35em')
    .attr('font-size', 11).attr('fill', '#fff').text('01:22:45');

// corner buttons
[[38.5, 'Z'], [1291.5, 'A']].forEach(b => {
    svg.append('circle').attr('cx', b[0]).attr('cy', 1217).attr('r', 9.5).attr('fill', '#f0f3fa');
    svg.append('text').attr('x', b[0]).attr('y', 1217).attr('dy', '0.35em')
        .attr('text-anchor', 'middle').attr('font-size', 10).attr('fill', '#6a6d78').text(b[1]);
});

// TradingView mark
svg.append('path')
    .attr('d', 'M10,1243.5H20.5V1254.5H15.5V1248H10ZM24.5,1243.5H29L24.5,1254.5H20.5L22.5,1249A2.2,2.2 0 1 1 24.5,1243.5Z')
    .attr('fill', '#d1d4dc');
svg.append('text').attr('x', 33.5).attr('y', 1249.5).attr('dy', '0.35em')
    .attr('font-size', 12.7).attr('fill', '#d1d4dc').text('TradingView');
</script>
</body>
</html>
